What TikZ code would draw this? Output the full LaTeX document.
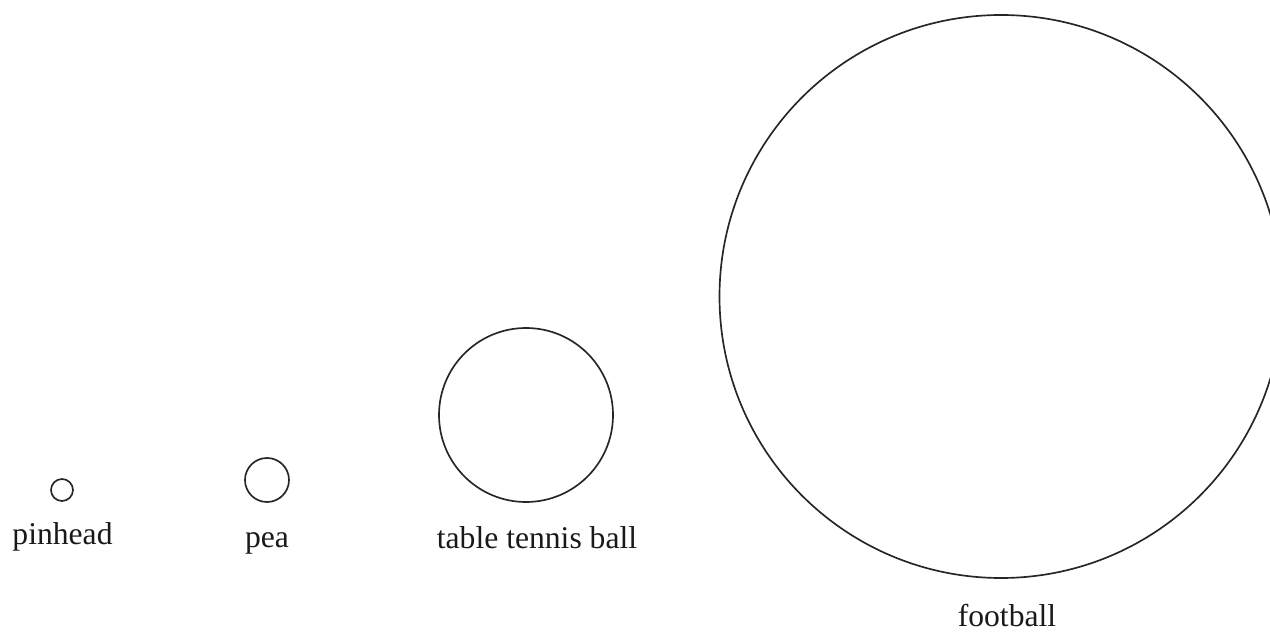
\documentclass[tikz,border=0pt]{standalone}
\usepackage{fontspec}
\setmainfont{Liberation Serif}
\usepackage{tikz}
\usetikzlibrary{positioning}

\begin{document}
\begin{tikzpicture}[
  ball/.style={
    circle, draw=black!85, line width=0.95pt, inner sep=0pt,
  },
  balltext/.style={
    anchor=base, font=\fontsize{18}{21}\selectfont, text=black!90,
  },
]
  \useasboundingbox (0,0) rectangle (25.4,12.64);

  % Balls
  \node[ball, minimum size=0.44cm] (pinhead) at (1.24, 2.84) {};
  \node[ball, minimum size=0.88cm] (pea) at (5.34, 3.04) {};
  \node[ball, minimum size=3.48cm] (tennis) at (10.52, 4.34) {};
  \node[ball, minimum size=11.26cm] (football) at (20.02, 6.71) {};

  % Labels
  \node[balltext] (pinheadtext) at (1.25, 1.74) {pinhead};
  \node[balltext] (peatext) at (5.34, 1.70) {pea};
  \node[balltext] (tennistext) at (10.74, 1.67) {table tennis ball};
  \node[balltext] (footballtext) at (20.14, 0.11) {football};

\end{tikzpicture}
\end{document}
